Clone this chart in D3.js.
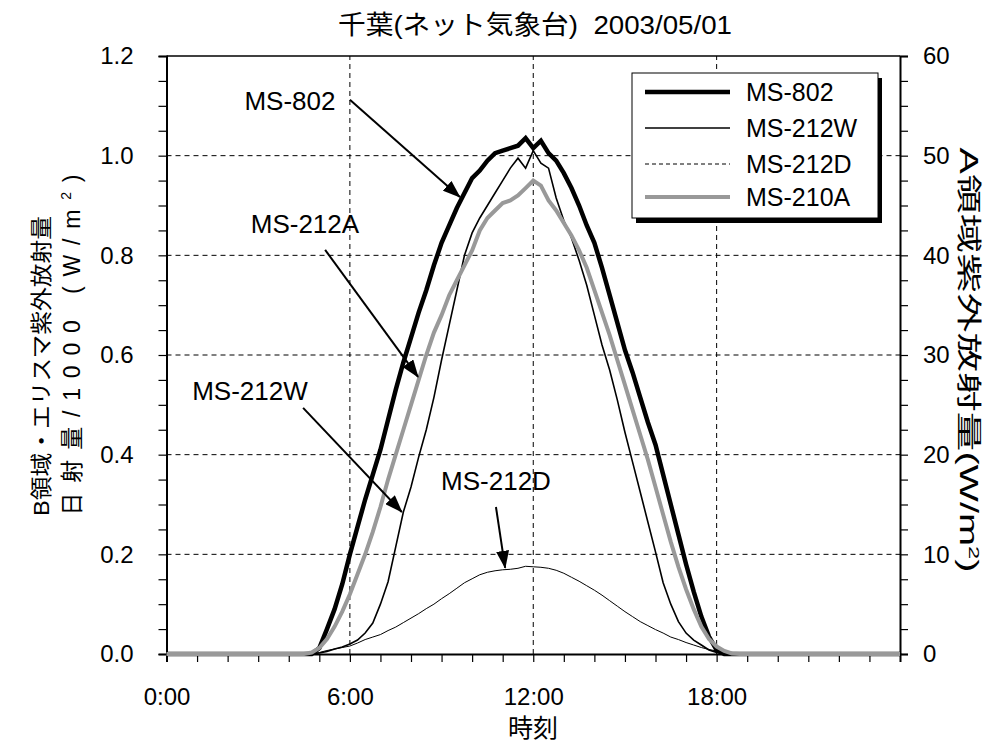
<!DOCTYPE html>
<html>
<head>
<meta charset="utf-8">
<script src="https://cdn.jsdelivr.net/npm/d3@7"></script>
<style>
body { margin: 0; background: #fff; }
svg text { font-family: "Liberation Sans", "Noto Sans CJK JP", sans-serif; fill: #000; }
</style>
</head>
<body>
<script>
// time of day (hours)
var hours = [0, 4.5, 4.75, 5, 5.25, 5.5, 5.75, 6, 6.25, 6.5, 6.75, 7, 7.25, 7.5, 7.75, 8, 8.25, 8.5, 8.75,
  9, 9.25, 9.5, 9.75, 10, 10.25, 10.5, 10.75, 11, 11.25, 11.5, 11.75, 12, 12.25, 12.5, 12.75,
  13, 13.25, 13.5, 13.75, 14, 14.25, 14.5, 14.75, 15, 15.25, 15.5, 15.75, 16, 16.25, 16.5, 16.75,
  17, 17.25, 17.5, 17.75, 18, 18.25, 18.5, 18.75, 24];

// 日射量/1000 (left axis)
var ms802 = [0, 0, 0, 0.012, 0.05, 0.09, 0.14, 0.2, 0.255, 0.31, 0.36, 0.41, 0.47, 0.53, 0.585, 0.635, 0.685, 0.73, 0.78,
  0.825, 0.86, 0.895, 0.925, 0.955, 0.97, 0.99, 1.005, 1.01, 1.015, 1.02, 1.035, 1.015, 1.03, 1.005, 0.99,
  0.965, 0.935, 0.9, 0.86, 0.825, 0.775, 0.72, 0.665, 0.61, 0.565, 0.515, 0.465, 0.42, 0.36, 0.3, 0.24,
  0.18, 0.125, 0.075, 0.035, 0.008, 0, 0, 0, 0];

// エリスマ紫外放射量 (left axis)
var ms212W = [0, 0, 0, 0.002, 0.005, 0.01, 0.014, 0.02, 0.028, 0.042, 0.062, 0.1, 0.145, 0.215, 0.285, 0.335, 0.395, 0.45, 0.515,
  0.59, 0.66, 0.73, 0.8, 0.845, 0.875, 0.9, 0.925, 0.95, 0.975, 0.995, 0.975, 1.01, 0.985, 0.975, 0.915,
  0.87, 0.835, 0.79, 0.74, 0.68, 0.62, 0.57, 0.51, 0.445, 0.385, 0.325, 0.265, 0.205, 0.143, 0.1, 0.065,
  0.042, 0.028, 0.018, 0.008, 0.003, 0, 0, 0, 0];

// B領域紫外放射量 (left axis)
var ms212D = [0, 0, 0, 0.003, 0.007, 0.01, 0.013, 0.016, 0.022, 0.029, 0.034, 0.039, 0.047, 0.054, 0.063, 0.072, 0.081, 0.091, 0.1,
  0.111, 0.121, 0.132, 0.143, 0.151, 0.159, 0.164, 0.167, 0.169, 0.17, 0.172, 0.176, 0.175, 0.174, 0.172, 0.168,
  0.162, 0.154, 0.146, 0.137, 0.128, 0.118, 0.107, 0.096, 0.085, 0.075, 0.065, 0.057, 0.049, 0.042, 0.034, 0.029,
  0.023, 0.018, 0.013, 0.009, 0.006, 0.003, 0, 0, 0];

// A領域紫外放射量 W/m2 (right axis)
var ms210A = [0, 0, 0.15, 0.6, 1.5, 2.75, 4.25, 6, 8, 10, 12.25, 14.75, 17.5, 20, 22.5, 25, 27.5, 30, 32.25,
  34, 36, 37.5, 39, 40.5, 42.5, 43.75, 44.5, 45.25, 45.5, 46, 46.75, 47.5, 47, 45.5, 44.5,
  43.25, 42, 40.5, 38.75, 36.5, 34.25, 32, 29.5, 27, 24.5, 22, 19.5, 16.75, 14, 11.25, 8.75,
  6.5, 4.5, 2.75, 1.5, 0.75, 0.3, 0.05, 0, 0];

var legendNames = ["MS-802", "MS-212W", "MS-212D", "MS-210A"];
var xTickLabels = [0, 6, 12, 18];

// annotation labels: [text, label hour, label value, arrow start hour, value, arrow tip hour, value]
var notes = [
  ["MS-802", 4.04, 1.092, 6.0, 1.112, 9.6, 0.917],
  ["MS-212A", 4.53, 0.845, 5.19, 0.811, 8.23, 0.556],
  ["MS-212W", 2.73, 0.51, 4.47, 0.494, 7.7, 0.285],
  ["MS-212D", 10.78, 0.329, 10.78, 0.295, 11.08, 0.173]
];

var w = 986, h = 742;
var svg = d3.select("body").append("svg").attr("width", w).attr("height", h);

var x = d3.scaleLinear().domain([0, 24]).range([166.5, 900]);
var y = d3.scaleLinear().domain([0, 1.2]).range([654, 56]);
var yR = d3.scaleLinear().domain([0, 60]).range([654, 56]);

svg.append("defs").append("marker")
  .attr("id", "head")
  .attr("markerUnits", "userSpaceOnUse")
  .attr("markerWidth", 18).attr("markerHeight", 13)
  .attr("refX", 17).attr("refY", 6.5)
  .attr("orient", "auto")
  .append("path").attr("d", "M0,0L18,6.5L0,13Z").attr("fill", "#000");

// grid
svg.append("g").selectAll("line")
  .data([0.2, 0.4, 0.6, 0.8, 1.0])
  .enter().append("line")
  .attr("x1", x(0)).attr("x2", x(24))
  .attr("y1", function(d) { return y(d); }).attr("y2", function(d) { return y(d); })
  .attr("stroke", "#000").attr("stroke-width", 1).attr("stroke-dasharray", "5,4");
svg.append("g").selectAll("line")
  .data([6, 12, 18])
  .enter().append("line")
  .attr("x1", function(d) { return x(d); }).attr("x2", function(d) { return x(d); })
  .attr("y1", y(0)).attr("y2", y(1.2))
  .attr("stroke", "#000").attr("stroke-width", 1).attr("stroke-dasharray", "5,4");

// top frame
svg.append("line")
  .attr("x1", x(0)).attr("x2", x(24)).attr("y1", y(1.2)).attr("y2", y(1.2))
  .attr("stroke", "#000").attr("stroke-width", 1.5);

// axes
var yAxis = d3.axisLeft(y)
  .tickValues(d3.range(0, 25).map(function(i) { return i * 0.05; }))
  .tickSize(8).tickPadding(25)
  .tickFormat(function(d) { return Math.round(d / 0.05) % 4 === 0 ? d3.format(".1f")(d) : ""; });
var yRAxis = d3.axisRight(yR)
  .tickValues(d3.range(0, 25).map(function(i) { return i * 2.5; }))
  .tickSize(8).tickPadding(15)
  .tickFormat(function(d) { return d % 10 === 0 ? d3.format("d")(d) : ""; });
var xAxis = d3.axisBottom(x)
  .tickValues(d3.range(0, 24))
  .tickSize(8).tickPadding(26)
  .tickFormat(function(d) { return xTickLabels.indexOf(d) >= 0 ? d + ":00" : ""; });

function styleAxis(g) {
  g.select(".domain").attr("stroke-width", 2);
  g.selectAll(".tick line").attr("stroke-width", 1.2);
  g.selectAll("text").attr("font-size", 24).attr("font-family", null);
}

svg.append("g").attr("transform", "translate(" + x(0) + ",0)").call(yAxis).call(styleAxis);
svg.append("g").attr("transform", "translate(" + x(24) + ",0)").call(yRAxis).call(styleAxis);
svg.append("g").attr("transform", "translate(0," + y(0) + ")").call(xAxis).call(styleAxis);

// series
var line = d3.line()
  .x(function(d, i) { return x(hours[i]); })
  .y(function(d) { return y(d); });
var lineR = d3.line()
  .x(function(d, i) { return x(hours[i]); })
  .y(function(d) { return yR(d); });

svg.append("path").datum(ms212D).attr("d", line)
  .attr("fill", "none").attr("stroke", "#000").attr("stroke-width", 1);
svg.append("path").datum(ms212W).attr("d", line)
  .attr("fill", "none").attr("stroke", "#000").attr("stroke-width", 1.6);
svg.append("path").datum(ms802).attr("d", line)
  .attr("fill", "none").attr("stroke", "#000").attr("stroke-width", 4.5);
svg.append("path").datum(ms210A).attr("d", lineR)
  .attr("fill", "none").attr("stroke", "#999").attr("stroke-width", 4);

// annotations
var ann = svg.append("g").selectAll("g").data(notes).enter().append("g");
ann.append("text")
  .attr("x", function(d) { return x(d[1]); })
  .attr("y", function(d) { return y(d[2]); })
  .attr("text-anchor", "middle").attr("font-size", 26)
  .text(function(d) { return d[0]; });
ann.append("line")
  .attr("x1", function(d) { return x(d[3]); }).attr("y1", function(d) { return y(d[4]); })
  .attr("x2", function(d) { return x(d[5]); }).attr("y2", function(d) { return y(d[6]); })
  .attr("stroke", "#000").attr("stroke-width", 2)
  .attr("marker-end", "url(#head)");

// legend
var lg = svg.append("g").attr("transform", "translate(632,73)");
lg.append("rect").attr("x", 4).attr("y", 5).attr("width", 246).attr("height", 145).attr("fill", "#000");
lg.append("rect").attr("width", 246).attr("height", 145).attr("fill", "#fff").attr("stroke", "#000").attr("stroke-width", 1);
var legStyle = [
  {color: "#000", width: 4.5, dash: null},
  {color: "#000", width: 1.6, dash: null},
  {color: "#000", width: 1, dash: "4,3"},
  {color: "#999", width: 4, dash: null}
];
var rows = lg.selectAll("g.row").data(legendNames).enter().append("g")
  .attr("transform", function(d, i) { return "translate(0," + [19, 55, 91, 124][i] + ")"; });
rows.append("line")
  .attr("x1", 13).attr("x2", 98)
  .attr("stroke", function(d, i) { return legStyle[i].color; })
  .attr("stroke-width", function(d, i) { return legStyle[i].width; })
  .attr("stroke-dasharray", function(d, i) { return legStyle[i].dash; });
rows.append("text")
  .attr("x", 114).attr("y", 9).attr("font-size", 25)
  .text(function(d) { return d; });

// titles
svg.append("text")
  .attr("x", 535).attr("y", 34).attr("text-anchor", "middle").attr("font-size", 26)
  .attr("xml:space", "preserve")
  .attr("textLength", 394).attr("lengthAdjust", "spacingAndGlyphs")
  .text("千葉(ネット気象台)  2003/05/01");

svg.append("text")
  .attr("x", 533).attr("y", 737).attr("text-anchor", "middle").attr("font-size", 25)
  .text("時刻");

svg.append("text")
  .attr("transform", "translate(49,366) rotate(-90)")
  .attr("text-anchor", "middle").attr("font-size", 22)
  .attr("textLength", 300).attr("lengthAdjust", "spacingAndGlyphs")
  .text("B領域・エリスマ紫外放射量");

svg.append("text")
  .attr("transform", "translate(80,345) rotate(-90)")
  .attr("text-anchor", "middle").attr("font-size", 23)
  .attr("textLength", 341).attr("lengthAdjust", "spacing")
  .html("日射量/1000 (W/m<tspan dy='-9' font-size='14'>2</tspan><tspan dy='9'>)</tspan>");

svg.append("text")
  .attr("transform", "translate(960,360) rotate(90)")
  .attr("text-anchor", "middle").attr("font-size", 25)
  .attr("textLength", 425).attr("lengthAdjust", "spacingAndGlyphs")
  .html("A領域紫外放射量(W/m<tspan dy='-9' font-size='15'>2</tspan><tspan dy='9'>)</tspan>");
</script>
</body>
</html>
